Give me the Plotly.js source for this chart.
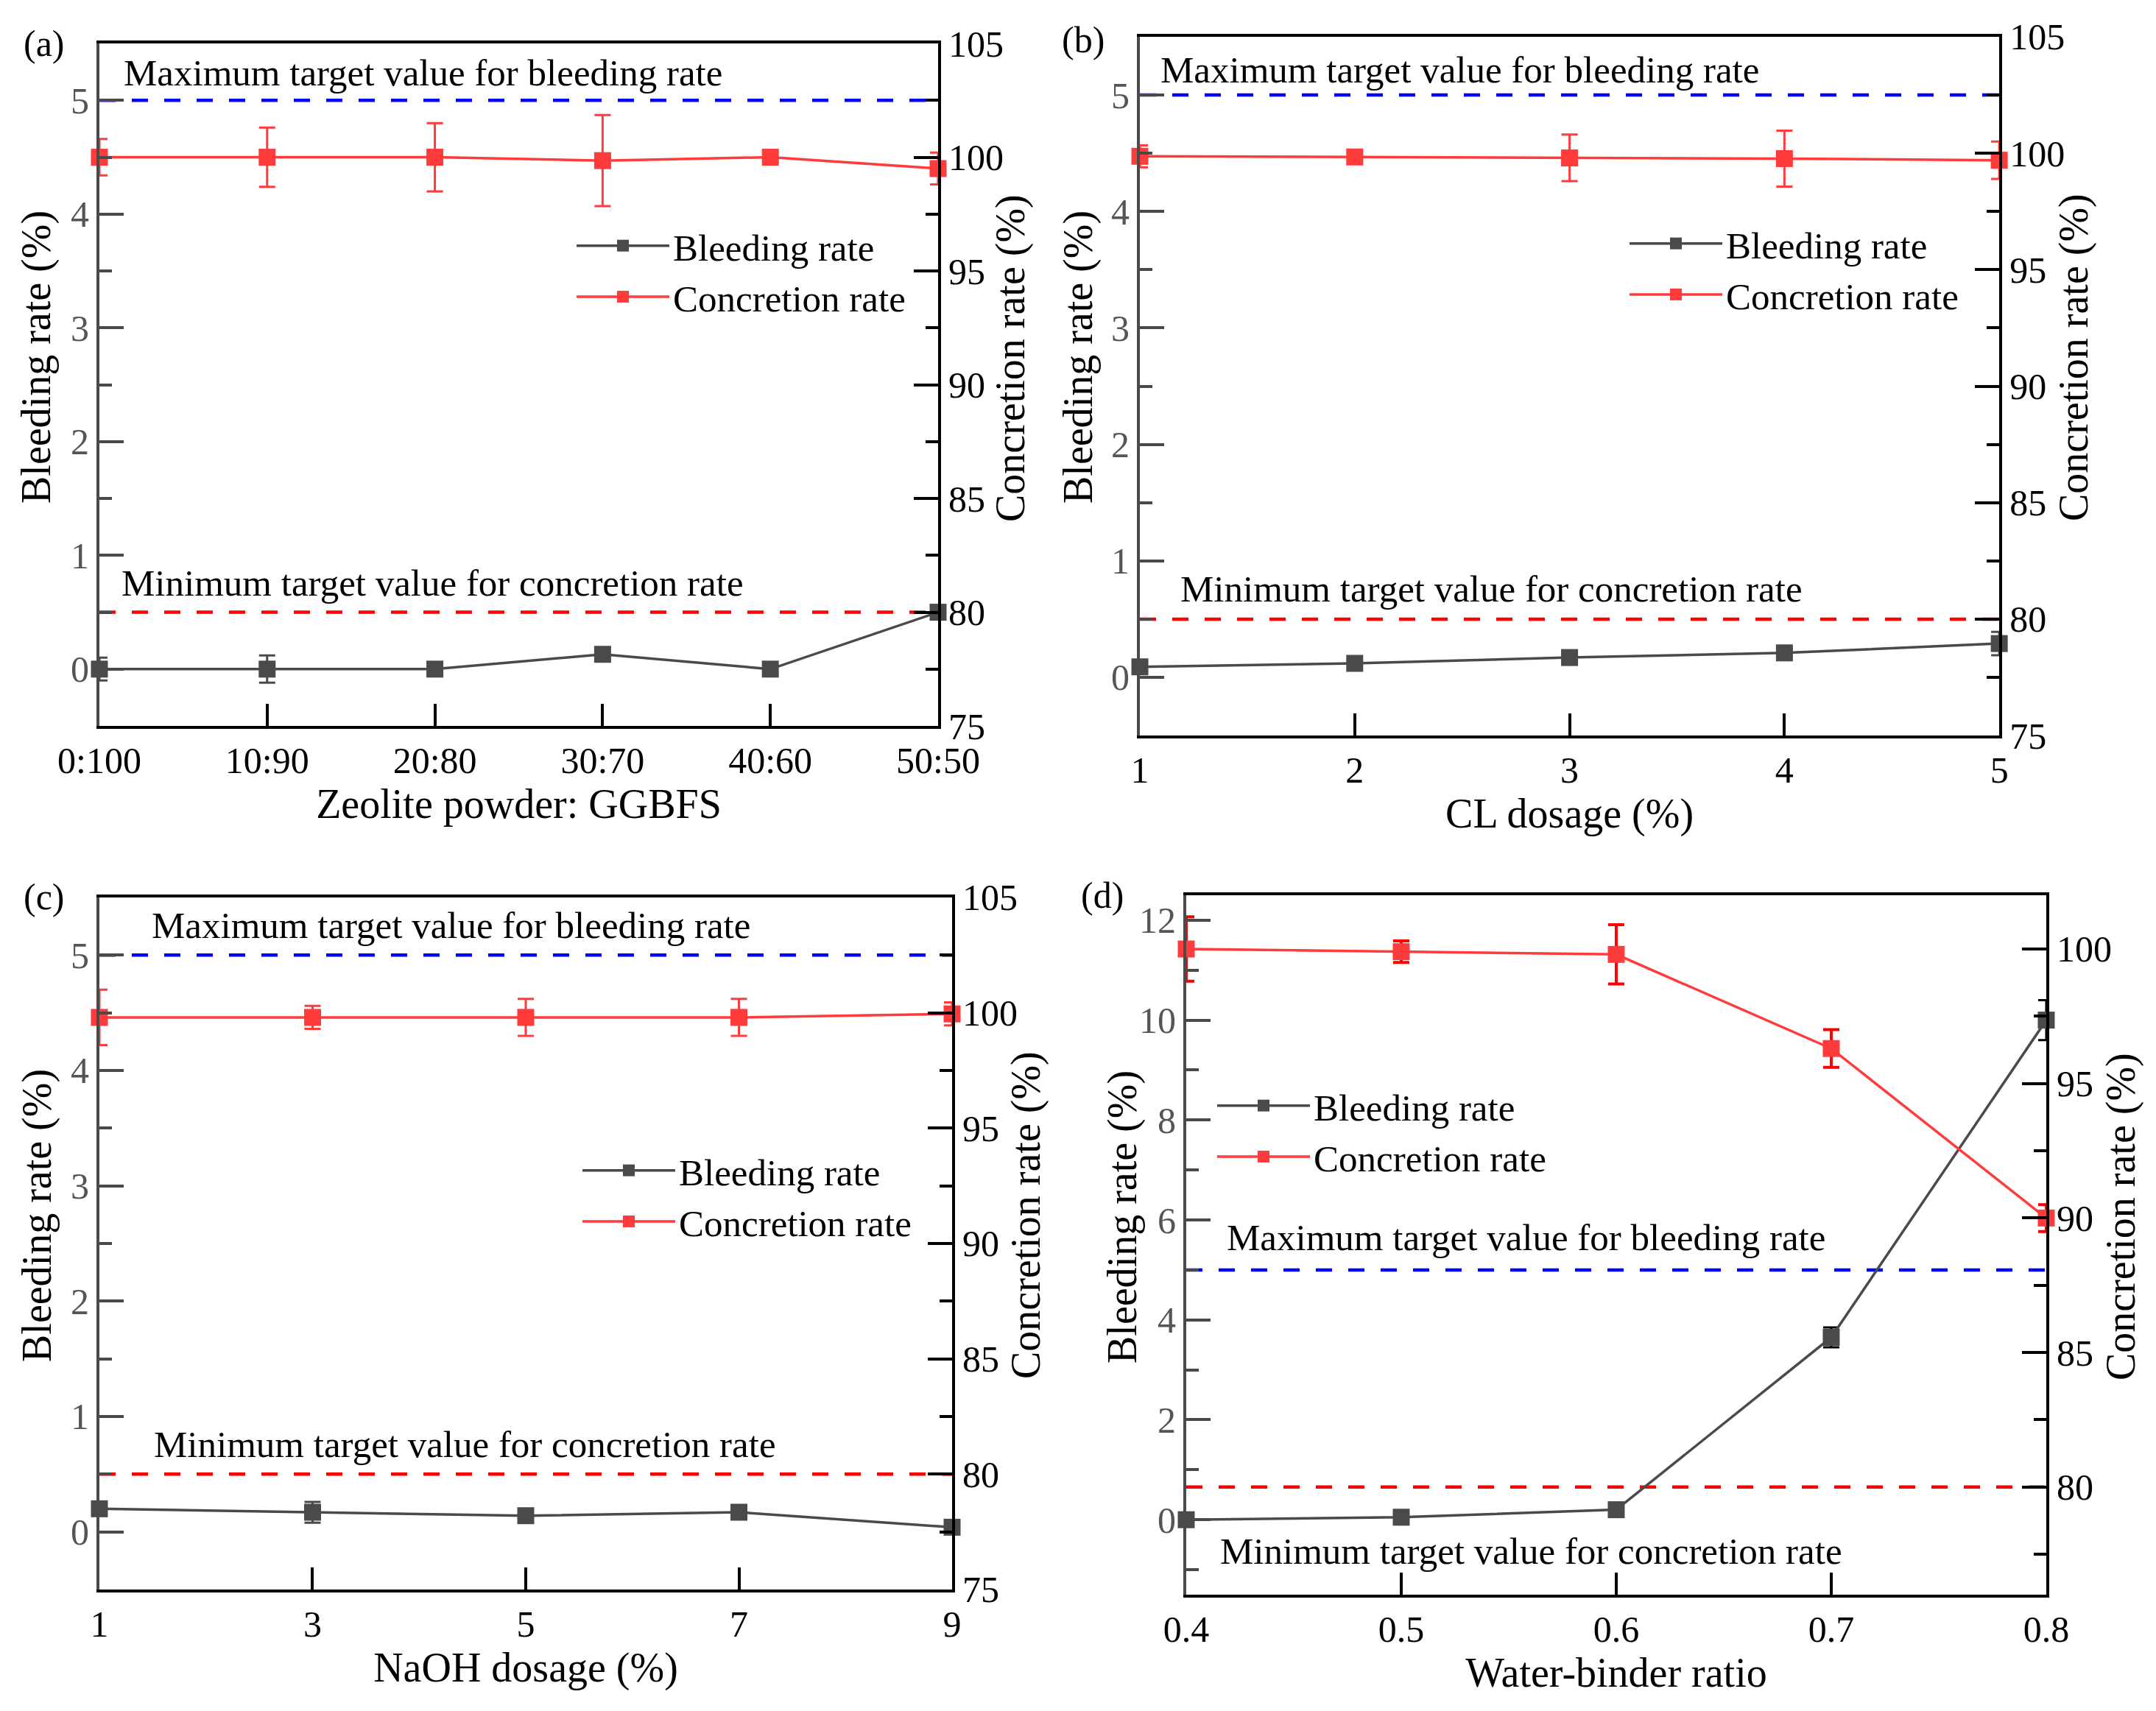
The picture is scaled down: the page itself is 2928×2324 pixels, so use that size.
<!DOCTYPE html>
<html>
<head>
<meta charset="utf-8">
<script src="https://cdn.plot.ly/plotly-3.0.1.min.js"></script>
<style>
  html, body { margin: 0; padding: 0; background: #fff; }
  #chart { width: 2928px; height: 2324px; }
</style>
</head>
<body>
<div id="chart"></div>
<script>
// (a) zeolite powder : GGBFS
const ratioLabels = ['0:100', '10:90', '20:80', '30:70', '40:60', '50:50'];
const bleedA = [0, 0, 0, 0.13, 0, 0.5];
const bleedAErr = [0.1, 0.12, 0.05, 0.05, 0.03, 0.06];
const concA = [100, 100, 100, 99.85, 100, 99.5];
const concAErr = [0.8, 1.3, 1.5, 2.0, 0.15, 0.7];

// (b) CL dosage
const clDosage = [1, 2, 3, 4, 5];
const bleedB = [0.09, 0.12, 0.17, 0.21, 0.29];
const bleedBErr = [0.03, 0.03, 0.03, 0.03, 0.1];
const concB = [99.87, 99.84, 99.8, 99.77, 99.7];
const concBErr = [0.47, 0.25, 1.0, 1.2, 0.8];

// (c) NaOH dosage
const naohDosage = [1, 3, 5, 7, 9];
const bleedC = [0.2, 0.17, 0.14, 0.17, 0.04];
const bleedCErr = [0.03, 0.09, 0.05, 0.04, 0.02];
const concC = [99.8, 99.8, 99.8, 99.8, 99.95];
const concCErr = [1.2, 0.5, 0.8, 0.8, 0.5];

// (d) water-binder ratio
const wbRatio = [0.4, 0.5, 0.6, 0.7, 0.8];
const bleedD = [0, 0.05, 0.2, 3.65, 10];
const bleedDErr = [0.05, 0.05, 0.12, 0.2, 0.4];
const concD = [100, 99.9, 99.8, 96.3, 90];
const concDErr = [1.2, 0.4, 1.1, 0.7, 0.5];

// target values
const maxBleeding = 5;
const minConcretion = 80;

const GRAY = '#4a4a4a';
const RED = '#ff3b3b';
const FONT = 'Liberation Serif';
const W = 2928, H = 2324;

function series(x, y, err, xa, ya, name, color, errColor, legend) {
    return {
        x: x, y: y,
        xaxis: xa, yaxis: ya,
        name: name,
        legend: legend,
        mode: 'lines+markers',
        cliponaxis: false,
        line: { color: color, width: 3.5 },
        marker: { symbol: 'square', size: 23, color: color },
        error_y: { type: 'data', array: err, visible: true, color: errColor, thickness: 3, width: 11 }
    };
}

const traces = [
    series(ratioLabels, bleedA, bleedAErr, 'x', 'y', 'Bleeding rate', GRAY, GRAY, 'legend'),
    series(ratioLabels, concA, concAErr, 'x', 'y2', 'Concretion rate', RED, RED, 'legend'),
    series(clDosage, bleedB, bleedBErr, 'x2', 'y3', 'Bleeding rate', GRAY, GRAY, 'legend2'),
    series(clDosage, concB, concBErr, 'x2', 'y4', 'Concretion rate', RED, RED, 'legend2'),
    series(naohDosage, bleedC, bleedCErr, 'x3', 'y5', 'Bleeding rate', GRAY, GRAY, 'legend3'),
    series(naohDosage, concC, concCErr, 'x3', 'y6', 'Concretion rate', RED, RED, 'legend3'),
    series(wbRatio, bleedD, bleedDErr, 'x4', 'y7', 'Bleeding rate', GRAY, '#000000', 'legend4'),
    series(wbRatio, concD, concDErr, 'x4', 'y8', 'Concretion rate', RED, '#ff0000', 'legend4')
];
traces[7].error_y.thickness = 4;

function xAxis(domain, anchor, title, extra) {
    return Object.assign({
        domain: domain, anchor: anchor,
        showline: true, linecolor: '#000', linewidth: 4, mirror: true,
        ticks: 'inside', ticklen: 30, tickwidth: 4, tickcolor: '#000',
        showgrid: false, zeroline: false,
        tickfont: { family: FONT, size: 50, color: '#000' },
        title: { text: title, font: { family: FONT, size: 56, color: '#000' }, standoff: 12 }
    }, extra);
}

function leftAxis(domain, anchor, range, dtick, minorDtick) {
    return {
        domain: domain, anchor: anchor, range: range,
        dtick: dtick, tick0: 0,
        showline: true, linecolor: GRAY, linewidth: 4,
        ticks: 'inside', ticklen: 33, tickwidth: 4, tickcolor: GRAY,
        minor: { ticks: 'inside', dtick: minorDtick, ticklen: 17, tickwidth: 4, tickcolor: GRAY },
        showgrid: false, zeroline: false,
        tickfont: { family: FONT, size: 50, color: '#555' }
    };
}

function rightAxis(overlay, anchor, range) {
    return {
        overlaying: overlay, anchor: anchor, side: 'right', range: range,
        dtick: 5, tick0: 75,
        showline: true, linecolor: '#000', linewidth: 4,
        ticks: 'inside', ticklen: 33, tickwidth: 4, tickcolor: '#000',
        minor: { ticks: 'inside', dtick: 2.5, ticklen: 17, tickwidth: 4, tickcolor: '#000' },
        showgrid: false, zeroline: false,
        tickfont: { family: FONT, size: 50, color: '#000' }
    };
}

const domA = { x: [0.0461, 0.4351], y: [0.5757, 0.9746] };
const domB = { x: [0.5287, 0.9273], y: [0.5701, 0.9785] };
const domC = { x: [0.0461, 0.4416], y: [0.0710, 0.4755] };
const domD = { x: [0.5502, 0.9491], y: [0.0680, 0.4768] };

function targetLine(xref, yref, value, color) {
    return {
        type: 'line', layer: 'below',
        xref: xref + ' domain', x0: 0, x1: 1,
        yref: yref, y0: value, y1: value,
        line: { color: color, width: 4.5, dash: '22px,22px' }
    };
}

function note(xref, yref, xpos, value, text, shift) {
    return {
        xref: xref + ' domain', x: xpos, xanchor: 'left',
        yref: yref, y: value, yanchor: 'middle', yshift: shift,
        text: text, showarrow: false,
        font: { family: FONT, size: 51, color: '#000' }
    };
}

function paperText(px, py, text, size, angle, anchor) {
    return {
        xref: 'paper', yref: 'paper', x: px / W, y: 1 - py / H,
        xanchor: anchor, yanchor: 'middle', textangle: angle,
        text: text, showarrow: false,
        font: { family: FONT, size: size, color: '#000' }
    };
}

// rotated y-axis titles, placed beside the axes as in the original figure
function yTitle(px, py, text) {
    return paperText(px, py, text, 56, -90, 'center');
}

function legendBox(px, py) {
    return {
        x: px / W, y: 1 - py / H, xref: 'paper', yref: 'paper',
        xanchor: 'left', yanchor: 'top',
        bgcolor: 'rgba(0,0,0,0)', borderwidth: 0,
        itemwidth: 126, tracegroupgap: 0,
        font: { family: FONT, size: 51, color: '#000' }
    };
}

const layout = {
    width: W, height: H,
    margin: { l: 0, r: 0, t: 0, b: 0 },
    paper_bgcolor: '#fff', plot_bgcolor: 'rgba(0,0,0,0)',
    font: { family: FONT, color: '#000' },

    xaxis: xAxis(domA.x, 'y', 'Zeolite powder: GGBFS', { type: 'category', range: [0, 5] }),
    yaxis: leftAxis(domA.y, 'x', [-0.5, 5.5], 1, 0.5),
    yaxis2: rightAxis('y', 'x', [75, 105]),

    xaxis2: xAxis(domB.x, 'y3', 'CL dosage (%)', { range: [1, 5], dtick: 1 }),
    yaxis3: leftAxis(domB.y, 'x2', [-0.5, 5.5], 1, 0.5),
    yaxis4: rightAxis('y3', 'x2', [75, 105]),

    xaxis3: xAxis(domC.x, 'y5', 'NaOH dosage (%)', { range: [1, 9], tickvals: naohDosage }),
    yaxis5: leftAxis(domC.y, 'x3', [-0.5, 5.5], 1, 0.5),
    yaxis6: rightAxis('y5', 'x3', [75, 105]),

    xaxis4: xAxis(domD.x, 'y7', 'Water-binder ratio', { range: [0.4, 0.8], tickvals: wbRatio, tickformat: '.1f' }),
    yaxis7: leftAxis(domD.y, 'x4', [-1.5, 12.5], 2, 1),
    yaxis8: rightAxis('y7', 'x4', [76, 102]),

    legend: legendBox(778, 294),
    legend2: legendBox(2208, 291),
    legend3: legendBox(786, 1550),
    legend4: legendBox(1648, 1462),

    shapes: [
        targetLine('x', 'y', maxBleeding, '#0000ff'),
        targetLine('x', 'y2', minConcretion, '#ff0000'),
        targetLine('x2', 'y3', maxBleeding, '#0000ff'),
        targetLine('x2', 'y4', minConcretion, '#ff0000'),
        targetLine('x3', 'y5', maxBleeding, '#0000ff'),
        targetLine('x3', 'y6', minConcretion, '#ff0000'),
        targetLine('x4', 'y7', maxBleeding, '#0000ff'),
        targetLine('x4', 'y8', minConcretion, '#ff0000')
    ],

    annotations: [
        note('x', 'y', 0.027, maxBleeding, 'Maximum target value for bleeding rate', 37),
        note('x', 'y2', 0.025, minConcretion, 'Minimum target value for concretion rate', 40),
        note('x2', 'y3', 0.022, maxBleeding, 'Maximum target value for bleeding rate', 34),
        note('x2', 'y4', 0.045, minConcretion, 'Minimum target value for concretion rate', 41),
        note('x3', 'y5', 0.060, maxBleeding, 'Maximum target value for bleeding rate', 40),
        note('x3', 'y6', 0.062, minConcretion, 'Minimum target value for concretion rate', 40),
        note('x4', 'y7', 0.045, maxBleeding, 'Maximum target value for bleeding rate', 44),
        note('x4', 'y8', 0.038, minConcretion, 'Minimum target value for concretion rate', -87),

        yTitle(50, 485, 'Bleeding rate (%)'),
        yTitle(1372, 487, 'Concretion rate (%)'),
        yTitle(1465, 485, 'Bleeding rate (%)'),
        yTitle(2817, 486, 'Concretion rate (%)'),
        yTitle(50, 1651, 'Bleeding rate (%)'),
        yTitle(1393, 1651, 'Concretion rate (%)'),
        yTitle(1524, 1653, 'Bleeding rate (%)'),
        yTitle(2880, 1653, 'Concretion rate (%)'),

        paperText(30, 59, '(a)', 50, 0, 'left'),
        paperText(1440, 54, '(b)', 50, 0, 'left'),
        paperText(30, 1218, '(c)', 50, 0, 'left'),
        paperText(1466, 1216, '(d)', 50, 0, 'left')
    ]
};

Plotly.newPlot('chart', traces, layout, { staticPlot: true });
</script>
</body>
</html>
